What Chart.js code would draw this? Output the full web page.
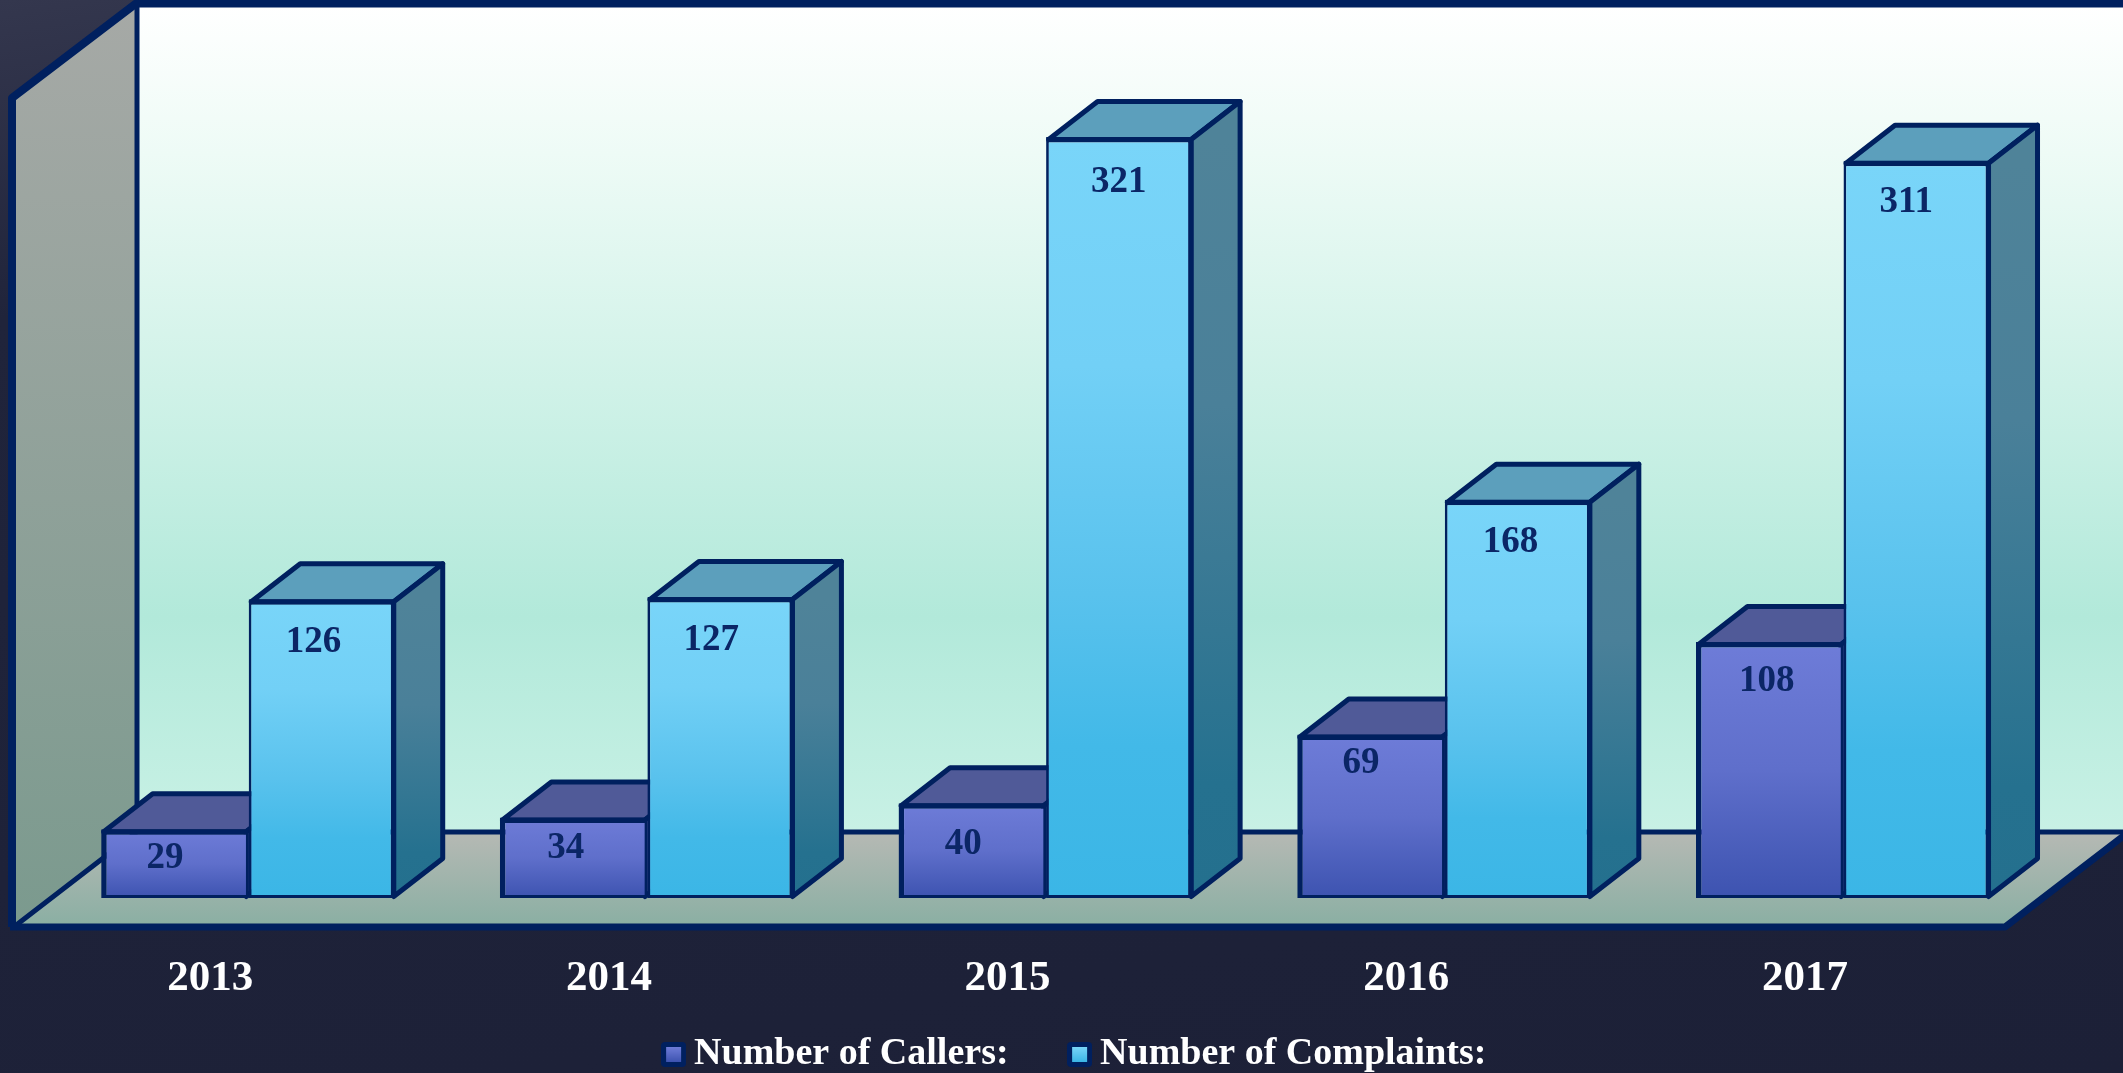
<!DOCTYPE html>
<html><head><meta charset="utf-8">
<style>
html,body{margin:0;padding:0;width:2123px;height:1073px;overflow:hidden;background:linear-gradient(170deg,#34374e 0,#20243b 22%,#1c2037 100%)}
canvas{display:block}
</style>
<script src="https://cdn.jsdelivr.net/npm/chart.js@4/dist/chart.umd.min.js"></script>
</head><body><canvas id="c" width="2123" height="1073"></canvas>
<script>
const categories = ['2013','2014','2015','2016','2017'];
const seriesNames = ['Number of Callers:','Number of Complaints:'];
const callers = [29,34,40,69,108];
const complaints = [126,127,321,168,311];

// value-label placement relative to the bar's top centre (style only)
const labelDX = [[-10,-8,-9,-10,-3],[-9,-10,-1,-8,-11]];
const labelDY = [[29,31,41,29,39],[43,43,45,43,42]];

const NAVY = '#00205f';
const SERIF = '"Liberation Serif", serif';
const DEPTH_X = 49, DEPTH_Y = 38;

const palette = [
  {front:[['0','#6e7cd8'],['0.5','#5f6fcb'],['1','#3d53b0']], top:'#505a98', side:[['0','#505a98'],['1','#3d4a88']]},
  {front:[['0','#79d5f9'],['0.3','#72d0f6'],['0.6','#59c2ed'],['0.8','#42b9e8'],['1','#3bb6e6']], top:'#5c9fbc',
   side:[['0','#4f8399'],['0.35','#4a8099'],['0.85','#25718f'],['1','#24708e']]}
];

function frontGradient(ctx){
  const chart = ctx.chart;
  if(!chart.chartArea || ctx.parsed === undefined) return palette[ctx.datasetIndex].front[1][1];
  const y = chart.scales.y;
  const g = chart.ctx.createLinearGradient(0,y.getPixelForValue(ctx.parsed.y),0,y.getPixelForValue(0));
  palette[ctx.datasetIndex].front.forEach(s=>g.addColorStop(+s[0],s[1]));
  return g;
}

function marker(i){
  const cv = document.createElement('canvas'); cv.width = 25; cv.height = 25;
  const c = cv.getContext('2d');
  c.fillStyle = NAVY; c.beginPath(); c.roundRect(0,0,25,25,4); c.fill();
  const g = c.createLinearGradient(0,5,0,20);
  const f = palette[i].front;
  g.addColorStop(0,f[0][1]); g.addColorStop(1,f[f.length-1][1]);
  c.fillStyle = g; c.fillRect(5,5,15,15);
  return cv;
}

const roomPlugin = {
  id:'room',
  beforeDatasetsDraw(chart){
    const c = chart.ctx;
    const back = {l:137,r:2126,t:4,b:832};
    const front = {l:15,r:2004,t:96,b:926};
    c.save();
    let g = c.createLinearGradient(0,back.t,0,back.b);
    g.addColorStop(0,'#ffffff'); g.addColorStop(0.18,'#eefbf6'); g.addColorStop(0.74,'#b2e9da'); g.addColorStop(1,'#c8f1e5');
    c.fillStyle = g; c.fillRect(back.l,back.t,back.r-back.l,back.b-back.t);
    // left wall
    g = c.createLinearGradient(0,back.t,0,front.b);
    g.addColorStop(0,'#a6a9a6'); g.addColorStop(1,'#7b9a8e');
    c.fillStyle = g; c.beginPath();
    c.moveTo(front.l,front.t); c.lineTo(back.l,back.t); c.lineTo(back.l,back.b); c.lineTo(front.l,front.b); c.closePath(); c.fill();
    // floor
    g = c.createLinearGradient(0,back.b,0,front.b);
    g.addColorStop(0,'#b6b9b4'); g.addColorStop(1,'#8aafa3');
    c.fillStyle = g; c.beginPath();
    c.moveTo(back.l,back.b); c.lineTo(back.r,back.b); c.lineTo(front.r,front.b); c.lineTo(front.l,front.b); c.closePath(); c.fill();
    // edges
    c.strokeStyle = NAVY; c.lineJoin = 'round';
    c.lineWidth = 5; c.beginPath();
    c.moveTo(back.l,back.t); c.lineTo(back.l,back.b); c.lineTo(2123,back.b);
    c.moveTo(back.l,back.b); c.lineTo(front.l,front.b);
    c.stroke();
    c.lineWidth = 8; c.beginPath();
    c.moveTo(2123,3.5); c.lineTo(back.l-1,3.5); c.lineTo(12,98); c.lineTo(12,927);
    c.stroke();
    c.lineWidth = 7; c.beginPath();
    c.moveTo(10,927); c.lineTo(2005,927); c.lineTo(2126,834);
    c.stroke();
    // top and side faces of every bar, behind all front faces
    c.strokeStyle = NAVY; c.lineWidth = 5;
    chart.data.datasets.forEach((ds,i)=>{
      const p = palette[i];
      chart.getDatasetMeta(i).data.forEach(bar=>{
        const l = bar.x - bar.width/2 + 2.5, r = bar.x + bar.width/2 - 2.5, t = bar.y + 2.5, b = bar.base - 1.5;
        c.fillStyle = p.top; c.beginPath();
        c.moveTo(l,t); c.lineTo(l+DEPTH_X,t-DEPTH_Y); c.lineTo(r+DEPTH_X,t-DEPTH_Y); c.lineTo(r,t); c.closePath(); c.fill(); c.stroke();
        const s = c.createLinearGradient(0,t,0,b);
        p.side.forEach(st=>s.addColorStop(+st[0],st[1]));
        c.fillStyle = s; c.beginPath();
        c.moveTo(r,t); c.lineTo(r+DEPTH_X,t-DEPTH_Y); c.lineTo(r+DEPTH_X,b-DEPTH_Y); c.lineTo(r,b); c.closePath(); c.fill(); c.stroke();
      });
    });
    c.restore();
  },
  afterDatasetsDraw(chart){
    const c = chart.ctx;
    c.save();
    c.font = 'bold 37px '+SERIF; c.fillStyle = '#0b2666'; c.textAlign = 'center'; c.textBaseline = 'middle';
    chart.data.datasets.forEach((ds,i)=>{
      chart.getDatasetMeta(i).data.forEach((bar,j)=>{
        c.fillText(String(ds.data[j]), bar.x + labelDX[i][j], bar.y + labelDY[i][j]);
      });
    });
    c.restore();
  },
  afterLayout(chart){
    const lg = chart.legend;
    lg.left += 33.15; lg.right += 33.15;
    lg.top = 966; lg.bottom = 1073;
  }
};

new Chart(document.getElementById('c'),{
  type:'bar',
  data:{labels:categories,datasets:[
    {label:seriesNames[0],data:callers,backgroundColor:frontGradient,borderColor:NAVY,
     borderWidth:{top:5.5,left:5.5,right:2.75,bottom:3},borderSkipped:false,barPercentage:1,categoryPercentage:0.74},
    {label:seriesNames[1],data:complaints,backgroundColor:frontGradient,borderColor:NAVY,
     borderWidth:{top:5.5,left:2.75,right:5.5,bottom:3},borderSkipped:false,barPercentage:1,categoryPercentage:0.74}
  ]},
  options:{
    responsive:false,animation:false,devicePixelRatio:1,
    layout:{padding:{left:49.35,right:80.15,top:44.6,bottom:0}},
    scales:{
      x:{grid:{display:false},border:{display:false},
         ticks:{color:'#ffffff',font:{family:SERIF,weight:'bold',size:43},padding:47,labelOffset:-38.5,maxRotation:0,autoSkip:false},
         afterFit(s){s.height=105;}},
      y:{display:false,min:0,max:360}
    },
    plugins:{
      tooltip:{enabled:false},
      legend:{position:'bottom',maxHeight:70,labels:{
        color:'#ffffff',font:{family:SERIF,weight:'bold',size:38},padding:69.5,
        usePointStyle:true,pointStyleWidth:3,
        generateLabels(chart){
          return chart.data.datasets.map((d,i)=>({text:d.label,fontColor:'#ffffff',pointStyle:marker(i),datasetIndex:i,hidden:false,lineWidth:0,strokeStyle:'transparent',fillStyle:'transparent'}));
        }
      }}
    }
  },
  plugins:[roomPlugin]
});
</script></body></html>
